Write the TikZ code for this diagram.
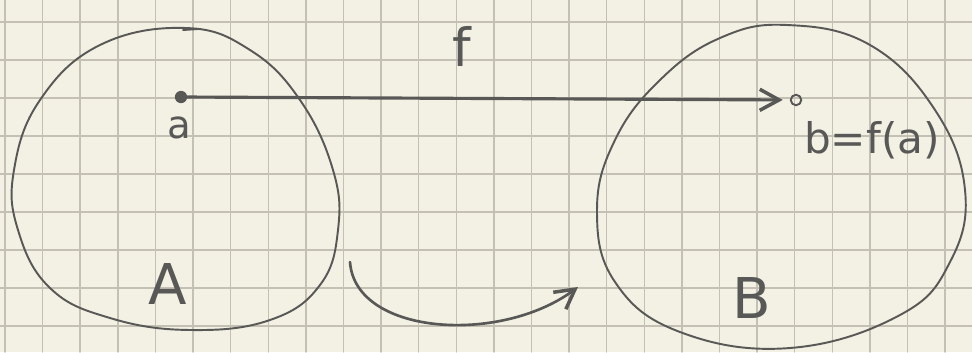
\documentclass[tikz,border=0pt]{standalone}
\usepackage{fontspec}
\setmainfont{DejaVu Sans}
\usepackage{tikz}
\usetikzlibrary{arrows.meta}
\definecolor{paper}{HTML}{F3F0E4}
\definecolor{gridgray}{HTML}{C4C0B4}
\definecolor{pencil}{HTML}{585856}

\begin{document}
\begin{tikzpicture}[x=0.02cm, y=-0.02cm, line join=round, line cap=round,
  setline/.style={pencil, line width=1.1pt},
  dot/.style={circle, fill=pencil, inner sep=0pt, minimum size=7pt},
  ring/.style={circle, draw=pencil, line width=1.1pt, inner sep=0pt, minimum size=6pt},
  lbl/.style={text=pencil, inner sep=0pt}]
\fill[paper] (0,0) rectangle (972,352);
\useasboundingbox (0,0) rectangle (972,352);
% squared paper
\foreach \gx in {0,...,25}
  \draw[gridgray, line width=0.8pt] ({5+37.6*\gx},0) -- ({5+37.6*\gx},352);
\foreach \gy in {0,...,8}
  \draw[gridgray, line width=0.8pt] (0,{22+38*\gy}) -- (972,{22+38*\gy});
% the two sets
\draw[setline] plot[smooth cycle, tension=0.7] coordinates {(186,28) (250,50) (300,100) (333,170) (338,230) (320,285) (270,320) (190,330) (110,318) (50,288) (18,230) (14,170) (40,100) (100,45)};
\draw[setline] plot[smooth cycle, tension=0.7] coordinates {(787,25) (870,45) (935,110) (965,190) (950,262) (900,315) (790,348) (680,332) (615,282) (597,210) (615,140) (660,80) (720,38)};
\draw[setline] (183,30) -- (198,29);
% points and the map
\node[dot] (a) at (181,97) {};
\node[ring] (b) at (796,100) {};
\draw[pencil, line width=1.8pt, -{Straight Barb[length=11pt, width=12pt, line width=2pt]}, shorten >=4pt] (a) -- (b);
\coordinate (s) at (350,262);
\coordinate (t) at (578,287);
\draw[pencil, line width=1.5pt, -{Straight Barb[length=11pt, width=12pt, line width=2pt]}] (s) .. controls (355,335) and (500,345) .. (t);
% labels
\node[lbl, font=\fontsize{30}{32}\selectfont] (fl) at (462,46) {f};
\node[lbl, font=\fontsize{22}{24}\selectfont] (al) at (179,128) {a};
\node[lbl, font=\fontsize{24}{26}\selectfont] (bl) at (872,140) {b=f(a)};
\node[lbl, font=\fontsize{32}{34}\selectfont] (Al) at (168,284) {A};
\node[lbl, font=\fontsize{32}{34}\selectfont] (Bl) at (752,298) {B};
\end{tikzpicture}
\end{document}
